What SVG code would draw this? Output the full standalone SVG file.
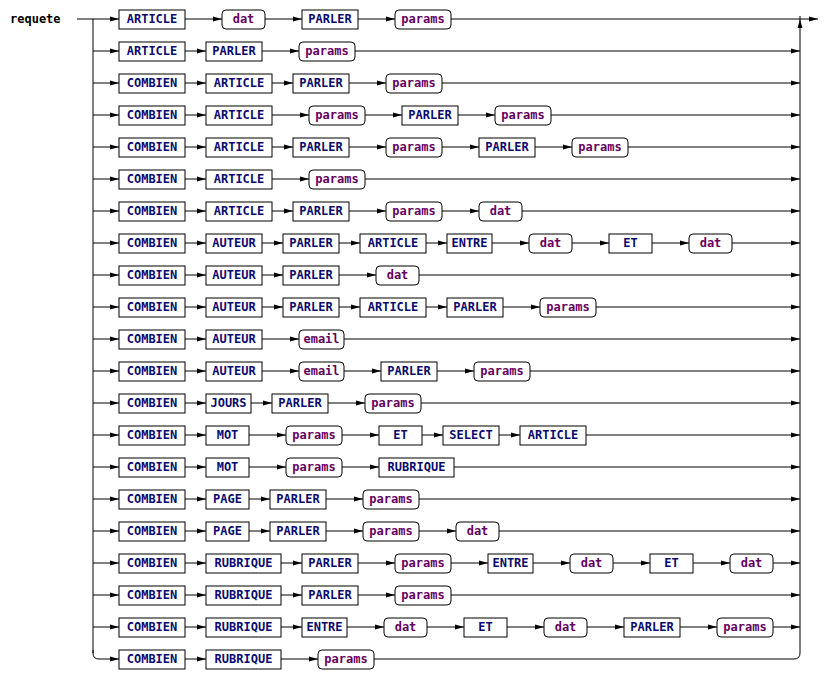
<svg xmlns="http://www.w3.org/2000/svg" width="836" height="690" viewBox="0 0 836 690">
<style>
text{font-family:"DejaVu Sans Mono","Liberation Mono",monospace;font-weight:bold;font-size:12px;text-anchor:middle}
.t rect{fill:#fff;stroke:#000;stroke-width:1}
.t text{fill:#0a0a6e}
.n rect{fill:#fff;stroke:#000;stroke-width:1}
.n text{fill:#660060}
#conn path{fill:none;stroke:#000;stroke-width:1;marker-end:url(#a)}
#conn path.p{marker-end:none}
</style>
<defs>
<marker id="a" markerWidth="10" markerHeight="6" refX="9" refY="3" orient="auto" markerUnits="userSpaceOnUse"><path d="M0,0.6 L9,3 L0,5.4 z" fill="#000"/></marker>
</defs>
<rect width="836" height="690" fill="#fff"/>
<g id="title"><text x="10" y="23" style="text-anchor:start;fill:#000">requete</text></g>
<g id="conn">
<path class="p" d="M93,19 V653"/>
<path d="M794,659 Q800,659 800,653 V19"/>
<path class="p" d="M800,19 V16"/>
<!-- row 0 -->
<path d="M77,19 H119"/><path d="M185,19 H222"/><path d="M265,19 H302"/><path d="M358,19 H395"/><path d="M451,19 H818"/>
<!-- row 1 -->
<path d="M93,51 H119"/><path d="M185,51 H206"/><path d="M262,51 H299"/><path d="M355,51 H800"/>
<!-- row 2 -->
<path d="M93,83 H119"/><path d="M185,83 H206"/><path d="M272,83 H293"/><path d="M349,83 H386"/><path d="M442,83 H800"/>
<!-- row 3 -->
<path d="M93,115 H119"/><path d="M185,115 H206"/><path d="M272,115 H309"/><path d="M365,115 H402"/><path d="M458,115 H495"/><path d="M551,115 H800"/>
<!-- row 4 -->
<path d="M93,147 H119"/><path d="M185,147 H206"/><path d="M272,147 H293"/><path d="M349,147 H386"/><path d="M442,147 H479"/><path d="M535,147 H572"/><path d="M628,147 H800"/>
<!-- row 5 -->
<path d="M93,179 H119"/><path d="M185,179 H206"/><path d="M272,179 H309"/><path d="M365,179 H800"/>
<!-- row 6 -->
<path d="M93,211 H119"/><path d="M185,211 H206"/><path d="M272,211 H293"/><path d="M349,211 H386"/><path d="M442,211 H479"/><path d="M522,211 H800"/>
<!-- row 7 -->
<path d="M93,243 H119"/><path d="M185,243 H206"/><path d="M262,243 H283"/><path d="M339,243 H360"/><path d="M426,243 H447"/><path d="M492,243 H529"/><path d="M572,243 H609"/><path d="M652,243 H689"/><path d="M732,243 H800"/>
<!-- row 8 -->
<path d="M93,275 H119"/><path d="M185,275 H206"/><path d="M262,275 H283"/><path d="M339,275 H376"/><path d="M419,275 H800"/>
<!-- row 9 -->
<path d="M93,307 H119"/><path d="M185,307 H206"/><path d="M262,307 H283"/><path d="M339,307 H360"/><path d="M426,307 H447"/><path d="M503,307 H540"/><path d="M596,307 H800"/>
<!-- row 10 -->
<path d="M93,339 H119"/><path d="M185,339 H206"/><path d="M262,339 H299"/><path d="M344,339 H800"/>
<!-- row 11 -->
<path d="M93,371 H119"/><path d="M185,371 H206"/><path d="M262,371 H299"/><path d="M344,371 H381"/><path d="M437,371 H474"/><path d="M530,371 H800"/>
<!-- row 12 -->
<path d="M93,403 H119"/><path d="M185,403 H206"/><path d="M251,403 H272"/><path d="M328,403 H365"/><path d="M421,403 H800"/>
<!-- row 13 -->
<path d="M93,435 H119"/><path d="M185,435 H206"/><path d="M249,435 H286"/><path d="M342,435 H379"/><path d="M422,435 H443"/><path d="M499,435 H520"/><path d="M586,435 H800"/>
<!-- row 14 -->
<path d="M93,467 H119"/><path d="M185,467 H206"/><path d="M249,467 H286"/><path d="M342,467 H379"/><path d="M454,467 H800"/>
<!-- row 15 -->
<path d="M93,499 H119"/><path d="M185,499 H206"/><path d="M249,499 H270"/><path d="M326,499 H363"/><path d="M419,499 H800"/>
<!-- row 16 -->
<path d="M93,531 H119"/><path d="M185,531 H206"/><path d="M249,531 H270"/><path d="M326,531 H363"/><path d="M419,531 H456"/><path d="M499,531 H800"/>
<!-- row 17 -->
<path d="M93,563 H119"/><path d="M185,563 H206"/><path d="M281,563 H302"/><path d="M358,563 H395"/><path d="M451,563 H488"/><path d="M533,563 H570"/><path d="M613,563 H650"/><path d="M693,563 H730"/><path d="M773,563 H800"/>
<!-- row 18 -->
<path d="M93,595 H119"/><path d="M185,595 H206"/><path d="M281,595 H302"/><path d="M358,595 H395"/><path d="M451,595 H800"/>
<!-- row 19 -->
<path d="M93,627 H119"/><path d="M185,627 H206"/><path d="M281,627 H302"/><path d="M347,627 H384"/><path d="M427,627 H464"/><path d="M507,627 H544"/><path d="M587,627 H624"/><path d="M680,627 H717"/><path d="M773,627 H800"/>
<!-- row 20 -->
<path d="M93,650 V653 Q93,659 99,659 H119"/><path d="M185,659 H206"/><path d="M281,659 H318"/><path class="p" d="M374,659 H794"/>
</g>
<!-- row 0 -->
<g id="n0_0" class="t"><rect x="119" y="10" width="66" height="19"/><text x="152" y="23">ARTICLE</text></g>
<g id="n0_1" class="n"><rect x="222" y="10" width="43" height="19" rx="4"/><text x="243.5" y="23">dat</text></g>
<g id="n0_2" class="t"><rect x="302" y="10" width="56" height="19"/><text x="330" y="23">PARLER</text></g>
<g id="n0_3" class="n"><rect x="395" y="10" width="56" height="19" rx="4"/><text x="423" y="23">params</text></g>
<!-- row 1 -->
<g id="n1_0" class="t"><rect x="119" y="42" width="66" height="19"/><text x="152" y="55">ARTICLE</text></g>
<g id="n1_1" class="t"><rect x="206" y="42" width="56" height="19"/><text x="234" y="55">PARLER</text></g>
<g id="n1_2" class="n"><rect x="299" y="42" width="56" height="19" rx="4"/><text x="327" y="55">params</text></g>
<!-- row 2 -->
<g id="n2_0" class="t"><rect x="119" y="74" width="66" height="19"/><text x="152" y="87">COMBIEN</text></g>
<g id="n2_1" class="t"><rect x="206" y="74" width="66" height="19"/><text x="239" y="87">ARTICLE</text></g>
<g id="n2_2" class="t"><rect x="293" y="74" width="56" height="19"/><text x="321" y="87">PARLER</text></g>
<g id="n2_3" class="n"><rect x="386" y="74" width="56" height="19" rx="4"/><text x="414" y="87">params</text></g>
<!-- row 3 -->
<g id="n3_0" class="t"><rect x="119" y="106" width="66" height="19"/><text x="152" y="119">COMBIEN</text></g>
<g id="n3_1" class="t"><rect x="206" y="106" width="66" height="19"/><text x="239" y="119">ARTICLE</text></g>
<g id="n3_2" class="n"><rect x="309" y="106" width="56" height="19" rx="4"/><text x="337" y="119">params</text></g>
<g id="n3_3" class="t"><rect x="402" y="106" width="56" height="19"/><text x="430" y="119">PARLER</text></g>
<g id="n3_4" class="n"><rect x="495" y="106" width="56" height="19" rx="4"/><text x="523" y="119">params</text></g>
<!-- row 4 -->
<g id="n4_0" class="t"><rect x="119" y="138" width="66" height="19"/><text x="152" y="151">COMBIEN</text></g>
<g id="n4_1" class="t"><rect x="206" y="138" width="66" height="19"/><text x="239" y="151">ARTICLE</text></g>
<g id="n4_2" class="t"><rect x="293" y="138" width="56" height="19"/><text x="321" y="151">PARLER</text></g>
<g id="n4_3" class="n"><rect x="386" y="138" width="56" height="19" rx="4"/><text x="414" y="151">params</text></g>
<g id="n4_4" class="t"><rect x="479" y="138" width="56" height="19"/><text x="507" y="151">PARLER</text></g>
<g id="n4_5" class="n"><rect x="572" y="138" width="56" height="19" rx="4"/><text x="600" y="151">params</text></g>
<!-- row 5 -->
<g id="n5_0" class="t"><rect x="119" y="170" width="66" height="19"/><text x="152" y="183">COMBIEN</text></g>
<g id="n5_1" class="t"><rect x="206" y="170" width="66" height="19"/><text x="239" y="183">ARTICLE</text></g>
<g id="n5_2" class="n"><rect x="309" y="170" width="56" height="19" rx="4"/><text x="337" y="183">params</text></g>
<!-- row 6 -->
<g id="n6_0" class="t"><rect x="119" y="202" width="66" height="19"/><text x="152" y="215">COMBIEN</text></g>
<g id="n6_1" class="t"><rect x="206" y="202" width="66" height="19"/><text x="239" y="215">ARTICLE</text></g>
<g id="n6_2" class="t"><rect x="293" y="202" width="56" height="19"/><text x="321" y="215">PARLER</text></g>
<g id="n6_3" class="n"><rect x="386" y="202" width="56" height="19" rx="4"/><text x="414" y="215">params</text></g>
<g id="n6_4" class="n"><rect x="479" y="202" width="43" height="19" rx="4"/><text x="500.5" y="215">dat</text></g>
<!-- row 7 -->
<g id="n7_0" class="t"><rect x="119" y="234" width="66" height="19"/><text x="152" y="247">COMBIEN</text></g>
<g id="n7_1" class="t"><rect x="206" y="234" width="56" height="19"/><text x="234" y="247">AUTEUR</text></g>
<g id="n7_2" class="t"><rect x="283" y="234" width="56" height="19"/><text x="311" y="247">PARLER</text></g>
<g id="n7_3" class="t"><rect x="360" y="234" width="66" height="19"/><text x="393" y="247">ARTICLE</text></g>
<g id="n7_4" class="t"><rect x="447" y="234" width="45" height="19"/><text x="469.5" y="247">ENTRE</text></g>
<g id="n7_5" class="n"><rect x="529" y="234" width="43" height="19" rx="4"/><text x="550.5" y="247">dat</text></g>
<g id="n7_6" class="t"><rect x="609" y="234" width="43" height="19"/><text x="630.5" y="247">ET</text></g>
<g id="n7_7" class="n"><rect x="689" y="234" width="43" height="19" rx="4"/><text x="710.5" y="247">dat</text></g>
<!-- row 8 -->
<g id="n8_0" class="t"><rect x="119" y="266" width="66" height="19"/><text x="152" y="279">COMBIEN</text></g>
<g id="n8_1" class="t"><rect x="206" y="266" width="56" height="19"/><text x="234" y="279">AUTEUR</text></g>
<g id="n8_2" class="t"><rect x="283" y="266" width="56" height="19"/><text x="311" y="279">PARLER</text></g>
<g id="n8_3" class="n"><rect x="376" y="266" width="43" height="19" rx="4"/><text x="397.5" y="279">dat</text></g>
<!-- row 9 -->
<g id="n9_0" class="t"><rect x="119" y="298" width="66" height="19"/><text x="152" y="311">COMBIEN</text></g>
<g id="n9_1" class="t"><rect x="206" y="298" width="56" height="19"/><text x="234" y="311">AUTEUR</text></g>
<g id="n9_2" class="t"><rect x="283" y="298" width="56" height="19"/><text x="311" y="311">PARLER</text></g>
<g id="n9_3" class="t"><rect x="360" y="298" width="66" height="19"/><text x="393" y="311">ARTICLE</text></g>
<g id="n9_4" class="t"><rect x="447" y="298" width="56" height="19"/><text x="475" y="311">PARLER</text></g>
<g id="n9_5" class="n"><rect x="540" y="298" width="56" height="19" rx="4"/><text x="568" y="311">params</text></g>
<!-- row 10 -->
<g id="n10_0" class="t"><rect x="119" y="330" width="66" height="19"/><text x="152" y="343">COMBIEN</text></g>
<g id="n10_1" class="t"><rect x="206" y="330" width="56" height="19"/><text x="234" y="343">AUTEUR</text></g>
<g id="n10_2" class="n"><rect x="299" y="330" width="45" height="19" rx="4"/><text x="321.5" y="343">email</text></g>
<!-- row 11 -->
<g id="n11_0" class="t"><rect x="119" y="362" width="66" height="19"/><text x="152" y="375">COMBIEN</text></g>
<g id="n11_1" class="t"><rect x="206" y="362" width="56" height="19"/><text x="234" y="375">AUTEUR</text></g>
<g id="n11_2" class="n"><rect x="299" y="362" width="45" height="19" rx="4"/><text x="321.5" y="375">email</text></g>
<g id="n11_3" class="t"><rect x="381" y="362" width="56" height="19"/><text x="409" y="375">PARLER</text></g>
<g id="n11_4" class="n"><rect x="474" y="362" width="56" height="19" rx="4"/><text x="502" y="375">params</text></g>
<!-- row 12 -->
<g id="n12_0" class="t"><rect x="119" y="394" width="66" height="19"/><text x="152" y="407">COMBIEN</text></g>
<g id="n12_1" class="t"><rect x="206" y="394" width="45" height="19"/><text x="228.5" y="407">JOURS</text></g>
<g id="n12_2" class="t"><rect x="272" y="394" width="56" height="19"/><text x="300" y="407">PARLER</text></g>
<g id="n12_3" class="n"><rect x="365" y="394" width="56" height="19" rx="4"/><text x="393" y="407">params</text></g>
<!-- row 13 -->
<g id="n13_0" class="t"><rect x="119" y="426" width="66" height="19"/><text x="152" y="439">COMBIEN</text></g>
<g id="n13_1" class="t"><rect x="206" y="426" width="43" height="19"/><text x="227.5" y="439">MOT</text></g>
<g id="n13_2" class="n"><rect x="286" y="426" width="56" height="19" rx="4"/><text x="314" y="439">params</text></g>
<g id="n13_3" class="t"><rect x="379" y="426" width="43" height="19"/><text x="400.5" y="439">ET</text></g>
<g id="n13_4" class="t"><rect x="443" y="426" width="56" height="19"/><text x="471" y="439">SELECT</text></g>
<g id="n13_5" class="t"><rect x="520" y="426" width="66" height="19"/><text x="553" y="439">ARTICLE</text></g>
<!-- row 14 -->
<g id="n14_0" class="t"><rect x="119" y="458" width="66" height="19"/><text x="152" y="471">COMBIEN</text></g>
<g id="n14_1" class="t"><rect x="206" y="458" width="43" height="19"/><text x="227.5" y="471">MOT</text></g>
<g id="n14_2" class="n"><rect x="286" y="458" width="56" height="19" rx="4"/><text x="314" y="471">params</text></g>
<g id="n14_3" class="t"><rect x="379" y="458" width="75" height="19"/><text x="416.5" y="471">RUBRIQUE</text></g>
<!-- row 15 -->
<g id="n15_0" class="t"><rect x="119" y="490" width="66" height="19"/><text x="152" y="503">COMBIEN</text></g>
<g id="n15_1" class="t"><rect x="206" y="490" width="43" height="19"/><text x="227.5" y="503">PAGE</text></g>
<g id="n15_2" class="t"><rect x="270" y="490" width="56" height="19"/><text x="298" y="503">PARLER</text></g>
<g id="n15_3" class="n"><rect x="363" y="490" width="56" height="19" rx="4"/><text x="391" y="503">params</text></g>
<!-- row 16 -->
<g id="n16_0" class="t"><rect x="119" y="522" width="66" height="19"/><text x="152" y="535">COMBIEN</text></g>
<g id="n16_1" class="t"><rect x="206" y="522" width="43" height="19"/><text x="227.5" y="535">PAGE</text></g>
<g id="n16_2" class="t"><rect x="270" y="522" width="56" height="19"/><text x="298" y="535">PARLER</text></g>
<g id="n16_3" class="n"><rect x="363" y="522" width="56" height="19" rx="4"/><text x="391" y="535">params</text></g>
<g id="n16_4" class="n"><rect x="456" y="522" width="43" height="19" rx="4"/><text x="477.5" y="535">dat</text></g>
<!-- row 17 -->
<g id="n17_0" class="t"><rect x="119" y="554" width="66" height="19"/><text x="152" y="567">COMBIEN</text></g>
<g id="n17_1" class="t"><rect x="206" y="554" width="75" height="19"/><text x="243.5" y="567">RUBRIQUE</text></g>
<g id="n17_2" class="t"><rect x="302" y="554" width="56" height="19"/><text x="330" y="567">PARLER</text></g>
<g id="n17_3" class="n"><rect x="395" y="554" width="56" height="19" rx="4"/><text x="423" y="567">params</text></g>
<g id="n17_4" class="t"><rect x="488" y="554" width="45" height="19"/><text x="510.5" y="567">ENTRE</text></g>
<g id="n17_5" class="n"><rect x="570" y="554" width="43" height="19" rx="4"/><text x="591.5" y="567">dat</text></g>
<g id="n17_6" class="t"><rect x="650" y="554" width="43" height="19"/><text x="671.5" y="567">ET</text></g>
<g id="n17_7" class="n"><rect x="730" y="554" width="43" height="19" rx="4"/><text x="751.5" y="567">dat</text></g>
<!-- row 18 -->
<g id="n18_0" class="t"><rect x="119" y="586" width="66" height="19"/><text x="152" y="599">COMBIEN</text></g>
<g id="n18_1" class="t"><rect x="206" y="586" width="75" height="19"/><text x="243.5" y="599">RUBRIQUE</text></g>
<g id="n18_2" class="t"><rect x="302" y="586" width="56" height="19"/><text x="330" y="599">PARLER</text></g>
<g id="n18_3" class="n"><rect x="395" y="586" width="56" height="19" rx="4"/><text x="423" y="599">params</text></g>
<!-- row 19 -->
<g id="n19_0" class="t"><rect x="119" y="618" width="66" height="19"/><text x="152" y="631">COMBIEN</text></g>
<g id="n19_1" class="t"><rect x="206" y="618" width="75" height="19"/><text x="243.5" y="631">RUBRIQUE</text></g>
<g id="n19_2" class="t"><rect x="302" y="618" width="45" height="19"/><text x="324.5" y="631">ENTRE</text></g>
<g id="n19_3" class="n"><rect x="384" y="618" width="43" height="19" rx="4"/><text x="405.5" y="631">dat</text></g>
<g id="n19_4" class="t"><rect x="464" y="618" width="43" height="19"/><text x="485.5" y="631">ET</text></g>
<g id="n19_5" class="n"><rect x="544" y="618" width="43" height="19" rx="4"/><text x="565.5" y="631">dat</text></g>
<g id="n19_6" class="t"><rect x="624" y="618" width="56" height="19"/><text x="652" y="631">PARLER</text></g>
<g id="n19_7" class="n"><rect x="717" y="618" width="56" height="19" rx="4"/><text x="745" y="631">params</text></g>
<!-- row 20 -->
<g id="n20_0" class="t"><rect x="119" y="650" width="66" height="19"/><text x="152" y="663">COMBIEN</text></g>
<g id="n20_1" class="t"><rect x="206" y="650" width="75" height="19"/><text x="243.5" y="663">RUBRIQUE</text></g>
<g id="n20_2" class="n"><rect x="318" y="650" width="56" height="19" rx="4"/><text x="346" y="663">params</text></g>
</svg>
